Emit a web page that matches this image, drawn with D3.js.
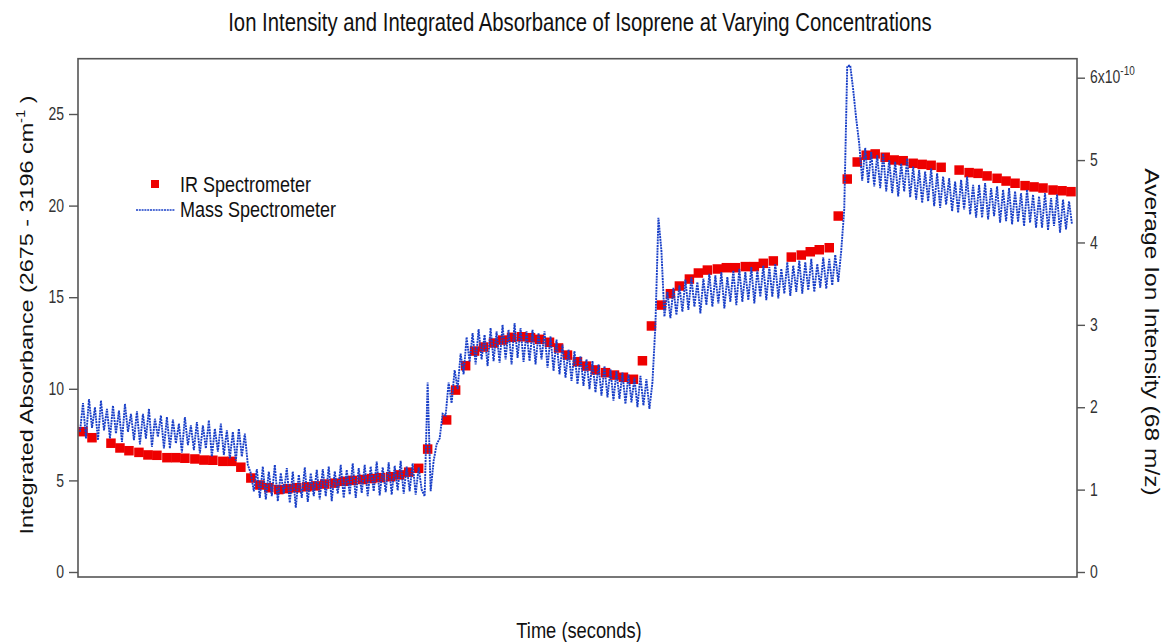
<!DOCTYPE html>
<html lang="en">
<head>
    <meta charset="UTF-8">
    <title>Isoprene Ion Intensity and Integrated Absorbance</title>
    <script src="https://d3js.org/d3.v7.min.js"></script>
    <style>
        body { margin: 0; background: white; }
        svg { display: block; font-family: "Liberation Sans", Arial, sans-serif; }
    </style>
</head>
<body>
    <svg width="1163" height="642" id="chart"></svg>

    <script>
        // IR spectrometer: time (arbitrary seconds) and integrated absorbance
        const irTime = [5, 14, 33, 42, 51, 61, 70, 79, 89, 98, 107, 117, 126, 135, 145, 154, 163, 173,
            182, 191, 201, 210, 219, 229, 238, 247, 257, 266, 275, 285, 294, 303, 313, 322, 331, 341,
            350, 369, 378, 388, 397, 406, 416, 425, 434, 444, 453, 462, 472, 481, 490, 500, 509, 518, 528, 537, 546, 556, 565, 574, 584,
            593, 602, 612, 621, 630, 640, 649, 658, 668, 677, 686, 696, 714, 724, 733, 742, 752, 761,
            770, 780, 789, 798, 808, 817, 826, 836, 845, 854, 864, 882, 892, 901, 910, 920, 929, 938, 948, 957, 966, 976, 985, 994];
        const irAbsorbance = [7.66, 7.33, 7.03, 6.77, 6.62, 6.53, 6.39, 6.37, 6.24, 6.24, 6.21, 6.17, 6.11, 6.10, 6.04, 6.04, 5.72, 5.13,
            4.75, 4.60, 4.50, 4.55, 4.60, 4.65, 4.70, 4.80, 4.85, 4.95, 5.00, 5.05, 5.10, 5.15, 5.20, 5.30, 5.45, 5.66,
            6.71, 8.30, 9.93, 11.26, 12.06, 12.28, 12.50, 12.66, 12.81, 12.84, 12.79, 12.70, 12.54, 12.23, 11.84, 11.48, 11.24, 11.03, 10.88, 10.75, 10.63, 10.52, 11.53, 13.43, 14.57,
            15.19, 15.61, 15.99, 16.32, 16.48, 16.54, 16.61, 16.61, 16.67, 16.67, 16.85, 16.98, 17.19, 17.30, 17.48, 17.59, 17.70, 19.43,
            21.45, 22.38, 22.75, 22.82, 22.64, 22.49, 22.45, 22.31, 22.25, 22.20, 22.09, 21.94, 21.80, 21.76, 21.62, 21.49, 21.34, 21.22, 21.09, 21.02, 20.96, 20.85, 20.81, 20.76];

        // Mass spectrometer: sampled every 3 s starting at t = 2, ion intensity in units of 1e-10
        const msStart = 2;
        const msStep = 3;
        const msIntensity = [
            1.70, 2.05, 1.62, 2.10, 1.75, 2.00, 1.60, 2.08, 1.72, 1.98,   // t 2
            1.62, 2.02, 1.68, 1.96, 1.58, 2.04, 1.70, 1.92, 1.60, 1.95,   // t 32
            1.55, 1.92, 1.62, 1.98, 1.52, 1.86, 1.64, 1.90, 1.50, 1.88,   // t 62
            1.50, 1.85, 1.56, 1.80, 1.45, 1.88, 1.54, 1.78, 1.48, 1.82,   // t 92
            1.44, 1.78, 1.50, 1.84, 1.40, 1.74, 1.46, 1.80, 1.42, 1.72,   // t 122
            1.38, 1.70, 1.35, 1.74, 1.40, 1.68, 1.30, 1.20, 0.98, 1.25,   // t 152
            0.90, 1.28, 0.88, 1.22, 0.92, 1.30, 0.86, 1.20, 0.95, 1.26,   // t 182
            0.84, 1.22, 0.78, 1.18, 0.90, 1.27, 0.85, 1.20, 0.92, 1.24,   // t 212
            0.88, 1.25, 0.92, 1.28, 0.86, 1.22, 0.95, 1.30, 0.90, 1.24,   // t 242
            0.94, 1.32, 0.90, 1.26, 0.96, 1.30, 0.92, 1.28, 0.98, 1.34,   // t 272
            0.93, 1.27, 0.97, 1.33, 0.94, 1.29, 0.99, 1.35, 0.95, 1.28,   // t 302
            0.98, 1.32, 0.94, 1.27, 1.00, 0.92, 2.30, 0.98, 1.35, 1.55,   // t 332
            1.62, 1.92, 1.90, 2.30, 2.05, 2.45, 2.22, 2.65, 2.40, 2.85,   // t 362
            2.55, 2.90, 2.52, 2.95, 2.58, 2.88, 2.50, 2.96, 2.56, 2.92,   // t 392
            2.54, 3.00, 2.58, 2.94, 2.52, 3.02, 2.60, 2.96, 2.55, 2.92,   // t 422
            2.56, 2.94, 2.52, 2.90, 2.58, 2.92, 2.48, 2.86, 2.44, 2.82,   // t 452
            2.40, 2.76, 2.36, 2.70, 2.32, 2.68, 2.28, 2.62, 2.26, 2.58,   // t 482
            2.22, 2.56, 2.18, 2.52, 2.14, 2.50, 2.12, 2.46, 2.08, 2.44,   // t 512
            2.10, 2.42, 2.04, 2.40, 2.06, 2.36, 2.00, 2.38, 2.02, 2.34,   // t 542
            1.98, 2.30, 3.00, 4.30, 3.90, 3.10, 3.40, 3.08, 3.45, 3.12,   // t 572
            3.48, 3.16, 3.55, 3.18, 3.58, 3.22, 3.52, 3.14, 3.56, 3.24,   // t 602
            3.62, 3.22, 3.60, 3.26, 3.64, 3.20, 3.58, 3.28, 3.66, 3.24,   // t 632
            3.68, 3.28, 3.64, 3.30, 3.70, 3.26, 3.66, 3.34, 3.72, 3.30,   // t 662
            3.70, 3.34, 3.74, 3.32, 3.68, 3.38, 3.76, 3.35, 3.72, 3.40,   // t 692
            3.78, 3.38, 3.76, 3.42, 3.80, 3.40, 3.74, 3.45, 3.82, 3.44,   // t 722
            3.80, 3.48, 3.85, 3.52, 3.90, 4.40, 6.14, 6.15, 5.85, 5.50,   // t 752
            5.20, 4.75, 5.15, 4.72, 5.10, 4.68, 5.06, 4.66, 5.08, 4.62,   // t 782
            5.00, 4.60, 4.98, 4.56, 4.96, 4.62, 5.02, 4.55, 4.92, 4.52,   // t 812
            4.88, 4.48, 4.86, 4.50, 4.90, 4.44, 4.84, 4.42, 4.80, 4.46,   // t 842
            4.78, 4.38, 4.74, 4.36, 4.76, 4.40, 4.80, 4.34, 4.70, 4.30,   // t 872
            4.70, 4.30, 4.72, 4.28, 4.66, 4.32, 4.68, 4.24, 4.64, 4.26,   // t 902
            4.66, 4.22, 4.62, 4.25, 4.60, 4.20, 4.64, 4.24, 4.58, 4.18,   // t 932
            4.56, 4.18, 4.60, 4.15, 4.54, 4.20, 4.58, 4.12, 4.52, 4.16,   // t 962
            4.50, 4.22                                                    // t 992
        ];

        const leftTicks = [0, 5, 10, 15, 20, 25];
        const rightTicks = [0, 1, 2, 3, 4, 5, 6];

        const svg = d3.select("#chart");

        // the original figure is stretched vertically, text too
        const stretch = 1.25;

        const frame = { left: 78, right: 1077, top: 58.7, bottom: 577 };

        const x = d3.scaleLinear().domain([0, 1000]).range([frame.left, frame.right]);
        const yLeft = d3.scaleLinear().domain([0, 25]).range([572, 114]);
        const yRight = d3.scaleLinear().domain([0, 6]).range([572, 77.7]);

        svg.append("defs").append("clipPath").attr("id", "plotClip")
            .append("rect")
            .attr("x", frame.left).attr("y", frame.top)
            .attr("width", frame.right - frame.left).attr("height", frame.bottom - frame.top);

        function label(px, py, str, size, anchor) {
            return svg.append("text")
                .attr("transform", `translate(${px},${py}) scale(1,${stretch})`)
                .attr("text-anchor", anchor || "start")
                .attr("font-size", size)
                .attr("fill", "#111")
                .text(str);
        }

        // title
        label(580, 31, "Ion Intensity and Integrated Absorbance of Isoprene at Varying Concentrations", 20.3, "middle");

        const plot = svg.append("g").attr("clip-path", "url(#plotClip)");

        // IR squares
        const sq = 9.5;
        plot.selectAll("rect.ir")
            .data(irTime.map((t, i) => ({ t: t, v: irAbsorbance[i] })))
            .enter().append("rect")
            .attr("class", "ir")
            .attr("x", d => x(d.t) - sq / 2)
            .attr("y", d => yLeft(d.v) - sq / 2)
            .attr("width", sq).attr("height", sq)
            .attr("fill", "#ee0000");

        // mass spec trace (dotted, drawn over the squares)
        const msData = msIntensity.map((v, i) => ({ t: msStart + i * msStep, v: v }));
        const line = d3.line().x(d => x(d.t)).y(d => yRight(d.v));
        plot.append("path")
            .datum(msData)
            .attr("d", line)
            .attr("fill", "none")
            .attr("stroke", "#1a40c8")
            .attr("stroke-width", 1.9)
            .attr("stroke-dasharray", "2,0.8");

        // frame
        svg.append("rect")
            .attr("x", frame.left).attr("y", frame.top)
            .attr("width", frame.right - frame.left).attr("height", frame.bottom - frame.top)
            .attr("fill", "none")
            .attr("stroke", "#555")
            .attr("stroke-width", 1.6);

        // axes
        const leftAxis = svg.append("g")
            .attr("transform", `translate(${frame.left},0)`)
            .call(d3.axisLeft(yLeft).tickValues(leftTicks).tickSize(9).tickPadding(5));
        const rightAxis = svg.append("g")
            .attr("transform", `translate(${frame.right},0)`)
            .call(d3.axisRight(yRight).tickValues(rightTicks).tickSize(8).tickPadding(5)
                .tickFormat(d => d === 6 ? "" : d));

        [leftAxis, rightAxis].forEach(a => {
            a.select(".domain").remove();
            a.selectAll("line").attr("stroke", "#555").attr("stroke-width", 1.4);
            a.selectAll("text").attr("font-size", 14).attr("fill", "#333")
                .attr("font-family", "Liberation Sans, Arial, sans-serif")
                .attr("transform", `scale(1,${stretch})`);
        });

        // 6x10^-10 label
        const sci = label(frame.right + 13, yRight(6) + 5, "", 14, "start").attr("fill", "#333");
        sci.append("tspan").text("6x10");
        sci.append("tspan").attr("dy", -6).attr("font-size", 10).text("-10");

        // left axis title
        const lt = svg.append("text")
            .attr("transform", `translate(33,315) rotate(-90) scale(1.23,1)`)
            .attr("text-anchor", "middle")
            .attr("font-size", 19).attr("fill", "#111");
        lt.append("tspan").text("Integrated Absorbance (2675 - 3196 cm");
        lt.append("tspan").attr("dy", -8).attr("font-size", 12).text("-1");
        lt.append("tspan").attr("dy", 8).text(" )");

        // right axis title
        svg.append("text")
            .attr("transform", `translate(1145,332) rotate(90) scale(1.23,1)`)
            .attr("text-anchor", "middle")
            .attr("font-size", 20).attr("fill", "#111")
            .text("Average Ion Intensity (68 m/z)");

        // x axis title
        label(579, 638, "Time (seconds)", 18.3, "middle");

        // legend
        const legend = svg.append("g");
        legend.append("rect")
            .attr("x", 151).attr("y", 180).attr("width", 8).attr("height", 8)
            .attr("fill", "#ee0000");
        label(180, 192, "IR Spectrometer", 18);
        legend.append("line")
            .attr("x1", 136).attr("x2", 175).attr("y1", 210).attr("y2", 210)
            .attr("stroke", "#1a40c8").attr("stroke-width", 1.4)
            .attr("stroke-dasharray", "2,0.8");
        label(180, 217, "Mass Spectrometer", 18);
    </script>
</body>
</html>
